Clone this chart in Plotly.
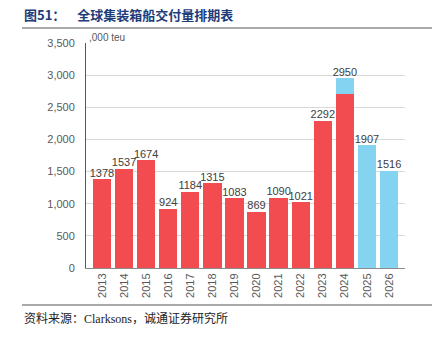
import plotly.graph_objects as go

years = ["2013","2014","2015","2016","2017","2018","2019","2020","2021","2022","2023","2024","2025","2026"]
delivered = [1378,1537,1674,924,1184,1315,1083,869,1090,1021,2292,2700,0,0]
scheduled = [0,0,0,0,0,0,0,0,0,0,0,250,1907,1516]
totals = [1378,1537,1674,924,1184,1315,1083,869,1090,1021,2292,2950,1907,1516]
ytick_vals = [0,500,1000,1500,2000,2500,3000,3500]
ytick_text = ["0","500","1,000","1,500","2,000","2,500","3,000","3,500"]

RED = "#F24C51"
BLUE = "#84D3F1"
W, H = 437, 338
L, R, T, B = 86, 405, 43, 268

def px(x): return (x - L) / (R - L)
def py(y): return (B - y) / (B - T)

fig = go.Figure()
fig.add_trace(go.Bar(x=years, y=delivered, marker=dict(color=RED, line=dict(width=0)), hoverinfo="skip"))
fig.add_trace(go.Bar(x=years, y=scheduled, marker=dict(color=BLUE, line=dict(width=0)), hoverinfo="skip"))
fig.add_trace(go.Scatter(x=years, y=totals, mode="text", text=[str(v) for v in totals],
                         textposition="top center", textfont=dict(size=11, color="#404040", family="Liberation Sans"),
                         hoverinfo="skip", cliponaxis=False))

fig.update_layout(
    width=W, height=H, barmode="stack", bargap=0.17, showlegend=False,
    margin=dict(l=L, r=W - R, t=T, b=H - B),
    paper_bgcolor="white", plot_bgcolor="white",
    font=dict(family="Liberation Sans", color="#595959", size=11),
    xaxis=dict(type="category", tickangle=-90, showline=True, linecolor="#8c8c8c", linewidth=1,
               ticks="", tickfont=dict(size=11, color="#595959"), showgrid=False),
    yaxis=dict(range=[0, 3500], tickvals=ytick_vals, ticktext=ytick_text, showgrid=True,
               gridcolor="#d9d9d9", gridwidth=1, showline=True, linecolor="#595959", linewidth=1,
               ticks="", zeroline=False, tickfont=dict(size=11, color="#595959"), ticklabelstandoff=8),
)

shapes = [
    dict(type="line", xref="paper", yref="paper", x0=px(22), x1=px(432), y0=py(28), y1=py(28),
         line=dict(color="#555555", width=1.2)),
    dict(type="line", xref="paper", yref="paper", x0=px(22), x1=px(432), y0=py(305), y1=py(305),
         line=dict(color="#555555", width=1.2)),
]
fig.update_layout(shapes=shapes)

fig.add_annotation(xref="paper", yref="paper", x=px(22), y=py(14), xanchor="left", yanchor="middle",
                   text="<b>图51：    全球集装箱船交付量排期表</b>", showarrow=False,
                   font=dict(family="Noto Sans CJK SC", size=13, color="#1E3B7A"))
fig.add_annotation(xref="paper", yref="paper", x=px(87), y=py(37), xanchor="left", yanchor="middle",
                   text=",000 teu", showarrow=False, font=dict(size=10, color="#595959"))
fig.add_annotation(xref="paper", yref="paper", x=px(22), y=py(318), xanchor="left", yanchor="middle",
                   text="资料来源：Clarksons，诚通证券研究所", showarrow=False,
                   font=dict(family="Liberation Serif, Noto Sans CJK SC", size=12, color="#222222"))

fig.write_html("out.html")
